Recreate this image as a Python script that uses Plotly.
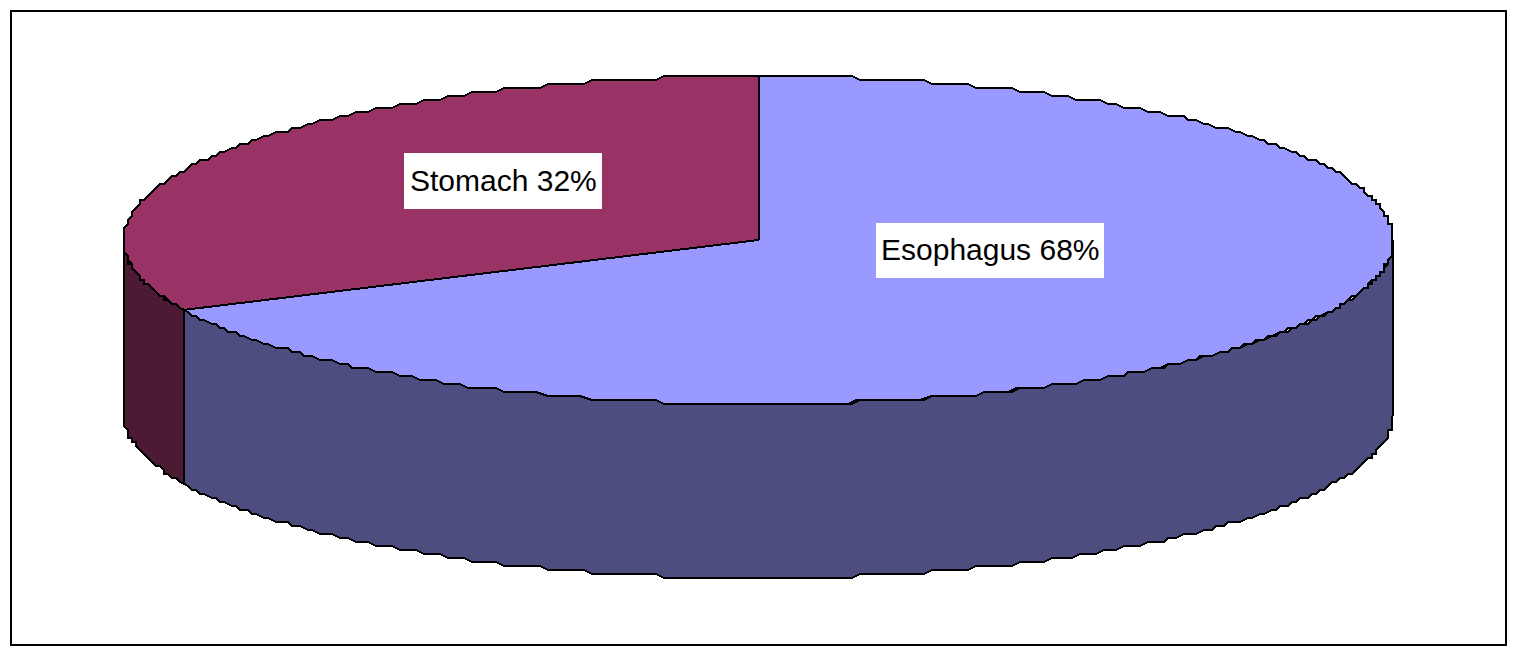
import numpy as np
import plotly.graph_objects as go

# data
categories = ["Esophagus", "Stomach"]
shares = [68, 32]
top_colors = ["#9999FF", "#993366"]
side_colors = ["#4D4D80", "#4D1A33"]
label_centers = [(990, 250.5), (503, 181)]
label_sizes = [(228, 55), (198, 56)]

# disc geometry in canvas units (axis ranges below equal the page size)
W, H = 1520, 657
CX, CY, RX, RY, DEPTH = 758.5, 240, 634.5, 164, 174
GRID = 4  # the rim of the original is visibly stepped


def rim(a_from, a_to):
    """Rim points; the angle runs clockwise from the top of the disc, in degrees."""
    n = max(int(abs(a_to - a_from) * 1.2), 2)
    t = np.radians(np.linspace(a_from, a_to, n))
    x = CX + RX * np.sin(t)
    y = CY - RY * np.cos(t)
    # step the inner points, keep the slice end points exact
    x[1:-1] = np.round(x[1:-1] / GRID) * GRID
    y[1:-1] = np.round(y[1:-1] / GRID) * GRID
    return x, y


fig = go.Figure()


def poly(x, y, fill):
    fig.add_trace(go.Scatter(
        x=x, y=y, mode="lines", fill="toself", fillcolor=fill,
        line=dict(color="black", width=2), hoverinfo="skip", showlegend=False,
    ))


# Slice angles from the shares: first slice starts at the top, clockwise
edges = np.concatenate([[0], np.cumsum(shares) / sum(shares) * 360])

# Side walls: only the part of each slice on the near half of the rim is visible
for i in range(len(shares)):
    a0, a1 = max(edges[i], 90), min(edges[i + 1], 270)
    if a1 > a0:
        x, y = rim(a0, a1)
        poly(np.concatenate([x, x[::-1], x[:1]]),
             np.concatenate([y, y[::-1] + DEPTH, y[:1]]), side_colors[i])

# Top face
for i in range(len(shares)):
    x, y = rim(edges[i], edges[i + 1])
    poly(np.concatenate([[CX], x, [CX]]), np.concatenate([[CY], y, [CY]]), top_colors[i])

annotations = [
    dict(x=c[0], y=c[1] - 1, xref="x", yref="y", showarrow=False,
         text=f"{name} {share}%",
         font=dict(family="Liberation Sans, Arial, sans-serif", size=30, color="black"))
    for name, share, c in zip(categories, shares, label_centers)
]

label_boxes = [
    dict(type="rect", xref="x", yref="y", layer="above", fillcolor="white", line=dict(width=0),
         x0=c[0] - s[0] / 2, x1=c[0] + s[0] / 2, y0=c[1] - s[1] / 2, y1=c[1] + s[1] / 2)
    for c, s in zip(label_centers, label_sizes)
]

fig.update_layout(
    width=W, height=H, margin=dict(l=0, r=0, t=0, b=0),
    paper_bgcolor="white", plot_bgcolor="white", showlegend=False,
    xaxis=dict(range=[0, W], visible=False, fixedrange=True),
    yaxis=dict(range=[H, 0], visible=False, fixedrange=True),
    annotations=annotations,
    shapes=[dict(type="rect", xref="x", yref="y", x0=11, y0=11, x1=1506, y1=645,
                 line=dict(color="black", width=2), layer="below")] + label_boxes,
)

fig.write_html(
    "out.html",
    config={"displayModeBar": False},
    post_script=(
        "document.body.style.margin='0';document.documentElement.style.overflow='hidden';"
        "document.querySelectorAll('.scatterlayer path').forEach(p=>p.style.shapeRendering='crispEdges');"
    ),
)
